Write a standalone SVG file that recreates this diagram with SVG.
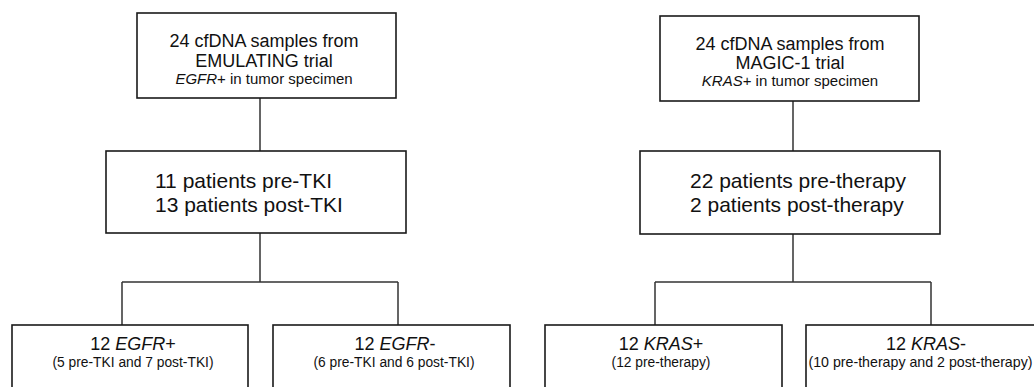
<svg xmlns="http://www.w3.org/2000/svg" width="1034" height="387" viewBox="0 0 1034 387">
<style>
.box{fill:#fff;stroke:#1a1a1a;stroke-width:1.6}
.ln{fill:none;stroke:#333;stroke-width:1.5}
text{font-family:"Liberation Sans",Arial,sans-serif;fill:#111}
.c{text-anchor:middle}
.t18{font-size:18px}
.t15{font-size:15px}
.t21{font-size:21px}
.t14{font-size:13.8px}
.i{font-style:italic}
</style>
<rect width="1034" height="387" fill="#fff"/>
<g id="connectors">
<path class="ln" d="M260 98V151M260 233V282M122 282H398M122 282V325M398 282V325"/>
<path class="ln" d="M793 101V151M793 234V282M655 282H931M655 282V325M931 282V325"/>
</g>
<g id="n-emulating">
<rect class="box" x="137" y="13" width="259" height="85"/>
<text class="c t18" x="264" y="47">24 cfDNA samples from</text>
<text class="c t18" x="264" y="67">EMULATING trial</text>
<text class="c t15" x="264" y="84"><tspan class="i">EGFR</tspan>+ in tumor specimen</text>
</g>
<g id="n-magic">
<rect class="box" x="660" y="16" width="259" height="85"/>
<text class="c t18" x="790" y="50">24 cfDNA samples from</text>
<text class="c t18" x="790" y="69">MAGIC-1 trial</text>
<text class="c t15" x="790" y="86"><tspan class="i">KRAS</tspan>+ in tumor specimen</text>
</g>
<g id="n-tki">
<rect class="box" x="106" y="151" width="300" height="82"/>
<text class="t21" x="155" y="188">11 patients pre-TKI</text>
<text class="t21" x="155" y="212">13 patients post-TKI</text>
</g>
<g id="n-therapy">
<rect class="box" x="640" y="151" width="300" height="83"/>
<text class="t21" x="690" y="188">22 patients pre-therapy</text>
<text class="t21" x="690" y="212">2 patients post-therapy</text>
</g>
<g id="n-egfr-pos">
<rect class="box" x="12" y="325" width="236" height="80"/>
<text class="c t18" x="133" y="350">12 <tspan class="i">EGFR</tspan>+</text>
<text class="c t14" x="133" y="367">(5 pre-TKI and 7 post-TKI)</text>
</g>
<g id="n-egfr-neg">
<rect class="box" x="273" y="325" width="237" height="80"/>
<text class="c t18" x="395" y="350">12 <tspan class="i">EGFR</tspan>-</text>
<text class="c t14" x="394" y="367">(6 pre-TKI and 6 post-TKI)</text>
</g>
<g id="n-kras-pos">
<rect class="box" x="545" y="325" width="237" height="80"/>
<text class="c t18" x="661" y="350">12 <tspan class="i">KRAS</tspan>+</text>
<text class="c t14" x="661" y="367">(12 pre-therapy)</text>
</g>
<g id="n-kras-neg">
<rect class="box" x="806" y="325" width="240" height="80"/>
<text class="c t18" x="926" y="350">12 <tspan class="i">KRAS</tspan>-</text>
<text class="c" style="font-size:14.2px" x="920.5" y="367">(10 pre-therapy and 2 post-therapy)</text>
</g>
</svg>
